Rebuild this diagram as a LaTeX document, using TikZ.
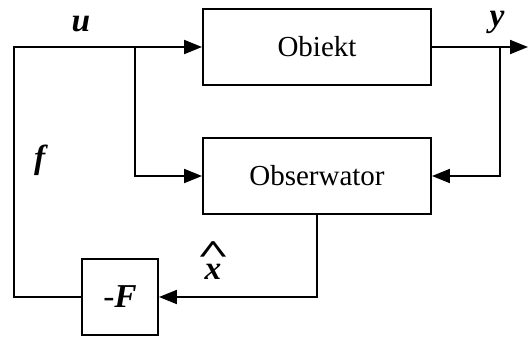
\documentclass[tikz,border=0pt]{standalone}
\usepackage{fontspec}
\setmainfont{Liberation Serif}
\usepackage{tikz}
\usetikzlibrary{arrows.meta}
\usetikzlibrary{calc}
\tikzstyle{blok} = [rectangle, draw, line width=0.04cm, inner sep=0pt, minimum height=1.52cm]
\tikzstyle{sig} = [line width=0.04cm]
\tikzstyle{strz} = [-{Triangle[length=0.36cm,width=0.28cm]}]
\tikzstyle{etyk} = [font=\fontsize{19}{21}\selectfont]
\newcommand{\wek}[1]{\textbf{\textit{#1}}}
\newcommand{\daszek}[1]{\ooalign{\wek{#1}\cr\hidewidth\raisebox{1.05ex}{\scalebox{1.7}[1.0]{\textbf{\^{}}}}\hidewidth\cr}}

\begin{document}
\begin{tikzpicture}[x=0.02cm,y=-0.02cm,font=\fontsize{16.5}{18}\selectfont]
				\useasboundingbox (0,0) rectangle (528,336);
				\node[blok, minimum width=4.56cm] (obiekt) at (317,47) {Obiekt};
				\node[blok, minimum width=4.56cm] (obserwator) at (317,176) {Obserwator};
				\node[blok, minimum width=1.52cm, etyk] (mf) at (120,297) {-\wek{F}};
				\coordinate (lg) at (14,47);
				\coordinate (ld) at (14,297);
				\coordinate (bu) at (135,47);
				\coordinate (by) at (500,47);
				\coordinate (wy) at (528,47);
				%%%%%%%%%%%%%%%%%%%%%%%%%%%%%%%%%%
				\node[etyk] at (81,24) {\wek{u}};
				\node[etyk] at (497,22) {\wek{y}};
				\node[etyk] at (41,160) {\wek{f}};
				\node[etyk] at (213,272) {\daszek{x}};
				%%%%%%%%%%%%%%%%%%%%%%%%%%%%%%%%%%
				\draw[sig,strz] (mf.west) -- (ld) -- (lg) -- (obiekt.west);
				\draw[sig,strz] (bu) |- (obserwator.west);
				\draw[sig,strz] (obiekt.east) -- (wy);
				\draw[sig,strz] (by) |- (obserwator.east);
				\draw[sig,strz] (obserwator.south) |- (mf.east);
			\end{tikzpicture}
\end{document}
